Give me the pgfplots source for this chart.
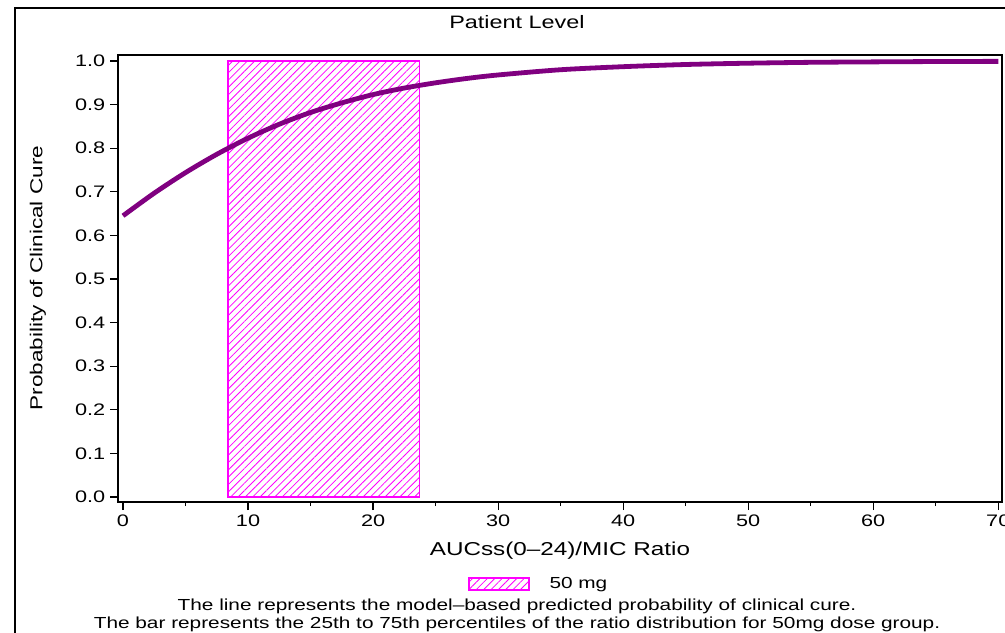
\documentclass[border=0pt]{standalone}
\usepackage{pgfplots}
\pgfplotsset{compat=1.18}
\usepackage{fontspec}
\setmainfont{Liberation Sans}[FakeStretch=1.3]
\usetikzlibrary{patterns.meta}

\definecolor{curvepurple}{RGB}{128,0,128}
\definecolor{barmagenta}{RGB}{255,0,255}

\begin{document}
\begin{tikzpicture}
\tikzset{hatch/.style={pattern={Lines[angle=45,distance=3.9pt,line width=0.6pt]},pattern color=barmagenta}}
\begin{axis}[
    scale only axis,
    width=663pt, height=335.25pt,
    xmin=-0.4, xmax=70.3,
    ymin=-0.0115, ymax=1.0138,
    xtick={0,10,...,70},
    minor x tick num=1,
    ytick={0,0.1,...,1.0},
    tick pos=left,
    tick align=outside,
    major tick length=6pt,
    minor tick length=3pt,
    axis line style={line width=1pt},
    every tick/.style={black, line width=0.9pt},
    yticklabel style={/pgf/number format/.cd, fixed, fixed zerofill, precision=1},
    /pgf/number format/assume math mode=true,
    tick label style={font=\fontsize{12.5}{14}\selectfont},
    xlabel={AUCss(0--24)/MIC Ratio},
    xlabel style={at={(axis description cs:0.5,0)}, anchor=center, yshift=-36.75pt,
        font=\fontsize{14}{16}\selectfont},
    legend style={at={(axis description cs:0.396,0)}, anchor=west, yshift=-61.5pt,
        draw=none, fill=none, inner sep=0pt, font=\fontsize{12}{14}\selectfont,
        nodes={inner sep=0pt}, /tikz/every odd column/.style={column sep=15pt}},
    legend image code/.code={\draw[#1] (0pt,-4.5pt) rectangle (45pt,4.5pt);},
    clip=false,
]
% 25th to 75th percentile bar
\addplot[draw=barmagenta, line width=0.9pt, hatch]
    coordinates {(8.4,0) (8.4,1) (23.7,1) (23.7,0)} -- cycle;
\addlegendentry{50 mg}
% predicted probability of clinical cure
\addplot[curvepurple, line width=3.6pt, smooth, forget plot]
    coordinates {
    (0,0.645) (2.5,0.697) (5,0.744) (7.5,0.786) (10,0.823) (12.5,0.855)
    (15,0.882) (17.5,0.904) (20,0.923) (22.5,0.938) (25,0.950) (27.5,0.960)
    (30,0.968) (35,0.980) (40,0.987) (45,0.992) (50,0.995) (55,0.997)
    (60,0.998) (65,0.9988) (70,0.9992)
    };
\end{axis}
\node[rotate=90, font=\fontsize{13}{15}\selectfont] at (-60pt,168pt) {Probability of Clinical Cure};
\node[font=\fontsize{13.5}{15}\selectfont] at (299.25pt,360pt) {Patient Level};
\node[font=\fontsize{12}{14}\selectfont] at (299.25pt,-78pt) {The line represents the model--based predicted probability of clinical cure.};
\node[font=\fontsize{12}{14}\selectfont] at (299.25pt,-91.5pt) {The bar represents the 25th to 75th percentiles of the ratio distribution for 50mg dose group.};
\draw[line width=1.4pt] (-77.25pt,-150pt) rectangle (720pt,370.5pt);
\pgfresetboundingbox
\useasboundingbox (-88.5pt,-97.5pt) rectangle (665.25pt,376.5pt);
\end{tikzpicture}
\end{document}
